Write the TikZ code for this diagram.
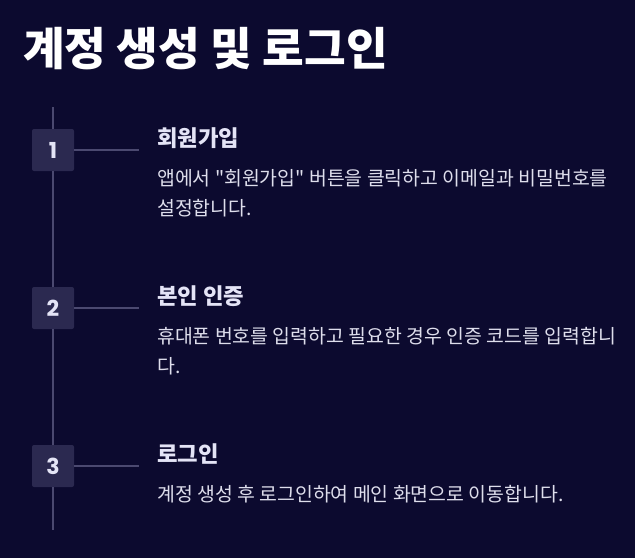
\documentclass[tikz,border=0pt]{standalone}
\usepackage{fontspec}
\setmainfont{Noto Sans CJK KR}[Ligatures=TeXOff]
\newfontfamily\numfont{Poppins}
\usetikzlibrary{positioning}

\definecolor{bgnavy}{HTML}{0C0A2F}
\definecolor{boxfill}{HTML}{2B2950}
\definecolor{rail}{HTML}{4B4970}
\definecolor{headtext}{HTML}{E4E4F6}
\definecolor{bodytext}{HTML}{DEDEEC}

\begin{document}
\begin{tikzpicture}[
    x=1pt, y=-1pt,
    stepnum/.style={fill=boxfill, rounded corners=2pt, minimum size=42pt, inner sep=0pt,
      text=headtext, font=\numfont\bfseries\fontsize{22}{22}\selectfont},
    stephead/.style={anchor=base west, inner sep=0pt, text=headtext,
      font=\bfseries\fontsize{22.3}{22.3}\selectfont},
    stepbody/.style={anchor=base west, inner sep=0pt, text=bodytext, align=left,
      font=\fontsize{19.4}{30}\selectfont},
    link/.style={draw=rail, line width=1.4pt}
    ]
    \fill[bgnavy] (0,0) rectangle (635,558);
    \useasboundingbox (0,0) rectangle (635,558);

    \node[anchor=base west, inner sep=0pt, text=white, font=\bfseries\fontsize{45.3}{45.3}\selectfont] (title) at (23,65) {계정 생성 및 로그인};

    \node[stepnum] (num1) at (53,150) {1};
    \node[stepnum] (num2) at (53,308) {2};
    \node[stepnum] (num3) at (53,466) {3};

    \coordinate (railtop) at (53,107);
    \coordinate (railend) at (53,530);
    \coordinate (tick1) at (139,150);
    \coordinate (tick2) at (139,308);
    \coordinate (tick3) at (139,466);

    \draw[link] (railtop) -- (num1) -- (num2) -- (num3) -- (railend);
    \draw[link] (num1) -- (tick1);
    \draw[link] (num2) -- (tick2);
    \draw[link] (num3) -- (tick3);

    \node[stephead] (head1) at (157,146) {회원가입};
    \node[stepbody] (body1) at (157,215) {앱에서 "회원가입" 버튼을 클릭하고 이메일과 비밀번호를\\설정합니다.};

    \node[stephead] (head2) at (157,304) {본인 인증};
    \node[stepbody] (body2) at (157,373) {휴대폰 번호를 입력하고 필요한 경우 인증 코드를 입력합니\\다.};

    \node[stephead] (head3) at (157,462) {로그인};
    \node[stepbody] (body3) at (157,501) {계정 생성 후 로그인하여 메인 화면으로 이동합니다.};
  \end{tikzpicture}
\end{document}
